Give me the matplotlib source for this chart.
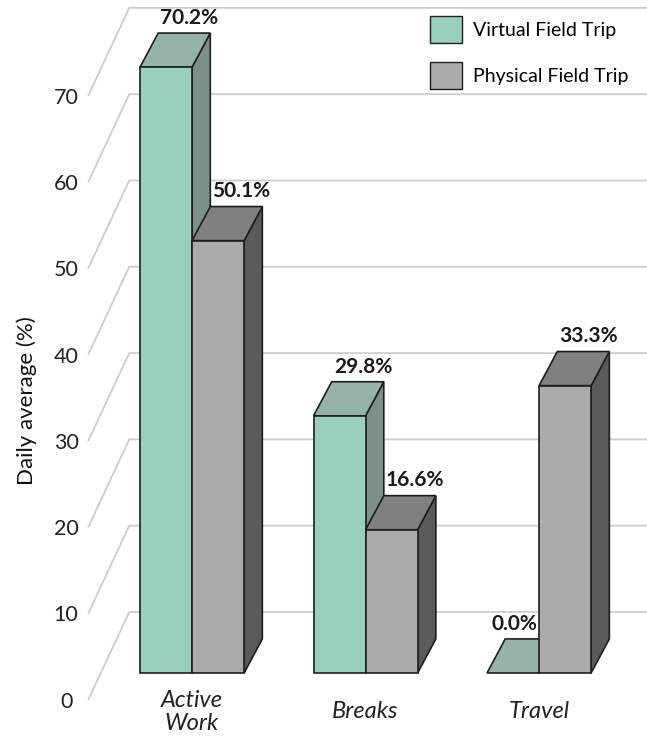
import matplotlib
matplotlib.use("Agg")
import matplotlib.pyplot as plt
from matplotlib.patches import Polygon, Patch

plt.rcParams['font.family'] = ['Lato', 'DejaVu Sans']

# data
categories = ["Active\nWork", "Breaks", "Travel"]
virtual_trip = [70.2, 29.8, 0.0]
physical_trip = [50.1, 16.6, 33.3]
series_names = ["Virtual Field Trip", "Physical Field Trip"]
y_ticks = [0, 10, 20, 30, 40, 50, 60, 70]

# colours: front, top, side
GREEN = ("#9ad0b9", "#95b3a7", "#7e9189")
GREY = ("#ababab", "#808080", "#5a5a5a")
EDGE = "#1e1e1e"
GRID = "#cdcdcd"

# pseudo-3d geometry (x in category units, y in percent)
BAR_W = 0.30
DX, DY = 0.105, 3.95          # bar depth
WALL_DX, WALL_DY = 0.237, 10.2  # depth of the back wall behind the tick labels

fig = plt.figure(figsize=(6.47, 7.38), dpi=100)
ax = fig.add_axes([0, 0, 1, 1])
ax.set_xlim(-1.107, 2.622)
ax.set_ylim(-7.53, 77.98)
ax.set_axis_off()

# back wall gridlines with slanted floor lines
wall_x0 = -0.599
for v in y_ticks:
    y0 = v - 3.13
    ax.plot([wall_x0, wall_x0 + WALL_DX, 2.7], [y0, y0 + WALL_DY, y0 + WALL_DY],
            color=GRID, lw=1.3, zorder=1, solid_capstyle='butt')
    ax.text(-0.726, y0 - 0.2, str(v), ha='center', va='center',
            fontsize=15.5, color="#222222")


def draw_bar(x0, h, cols):
    x1 = x0 + BAR_W
    kw = dict(edgecolor=EDGE, lw=1.2, joinstyle='miter', zorder=3)
    ax.add_patch(Polygon([(x1, 0), (x1 + DX, DY), (x1 + DX, h + DY), (x1, h)],
                         facecolor=cols[2], **kw))
    ax.add_patch(Polygon([(x0, h), (x0 + DX, h + DY), (x1 + DX, h + DY), (x1, h)],
                         facecolor=cols[1], **kw))
    if h > 0:
        ax.add_patch(Polygon([(x0, 0), (x1, 0), (x1, h), (x0, h)],
                             facecolor=cols[0], **kw))


for i, (vv, pv) in enumerate(zip(virtual_trip, physical_trip)):
    for x0, v, cols in [(i - BAR_W, vv, GREEN), (i, pv, GREY)]:
        draw_bar(x0, v, cols)
        if v > 0:
            lx, ha = x0 + BAR_W / 2 + DX + 0.03, 'center'
        else:
            lx, ha = x0 + BAR_W - 0.01, 'right'
        ax.text(lx, v + DY + 0.6, f"{v:.1f}%", ha=ha, va='bottom',
                fontsize=15, fontweight='bold', color="#1a1a1a", zorder=4)
    ax.text(i, -4.5, categories[i], ha='center', va='center', fontsize=17,
            style='italic', color="#222222", linespacing=1.15)

ax.text(-0.951, 31.6, "Daily average (%)", rotation=90, ha='center', va='center',
        fontsize=16, color="#111111")

handles = [Patch(facecolor=GREEN[0], edgecolor=EDGE, lw=1.0),
           Patch(facecolor=GREY[0], edgecolor=EDGE, lw=1.0)]
fig.legend(handles, series_names, loc='upper left',
           bbox_to_anchor=(430 / 647, 1 - 16 / 738), frameon=False,
           fontsize=14, handlelength=1.65, handleheight=1.75,
           handletextpad=0.55, labelspacing=1.0, borderpad=0, borderaxespad=0)

fig.savefig("out.png", dpi=100)
